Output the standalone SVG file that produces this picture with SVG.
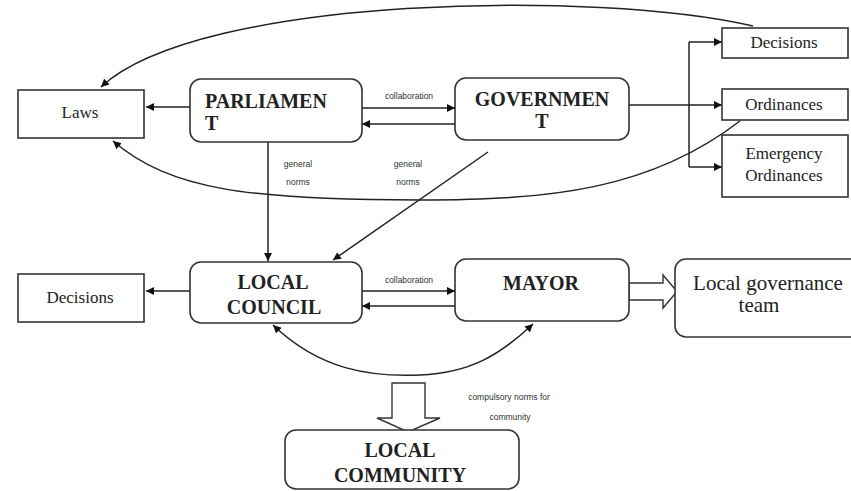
<svg xmlns="http://www.w3.org/2000/svg" width="851" height="491" viewBox="0 0 851 491">
<style>
.box{fill:#fff;stroke:#333;stroke-width:1.6}
.t{font-family:"Liberation Serif","Times New Roman",serif;fill:#222;text-anchor:middle}
.b{font-weight:bold;font-size:20px}
.n{font-family:"Liberation Serif","Times New Roman",serif;font-size:17px}
.s{font-family:"Liberation Sans",Arial,sans-serif;font-size:8.5px;fill:#2a352a;text-anchor:middle}
.c{fill:none;stroke:#222;stroke-width:1.5}
.blk{fill:#fff;stroke:#333;stroke-width:1.4}
</style>
<defs>
<marker id="ah" viewBox="0 0 10 10" refX="10" refY="5" markerWidth="8" markerHeight="8" markerUnits="userSpaceOnUse" orient="auto-start-reverse">
<path d="M0,0 L10,5 L0,10 z" fill="#111"/>
</marker>
</defs>
<rect width="851" height="491" fill="#fff"/>

<g id="connectors">
<path class="c" d="M753,26 C600,-10 200,-5 101,87" marker-end="url(#ah)"/>
<path class="c" d="M740,121 C650,190 550,200 420,200 C250,200 170,190 113,141" marker-end="url(#ah)"/>
<line class="c" x1="190" y1="107" x2="146" y2="107" marker-end="url(#ah)"/>
<line class="c" x1="362" y1="108" x2="455" y2="108" marker-end="url(#ah)"/>
<line class="c" x1="455" y1="124" x2="362" y2="124" marker-end="url(#ah)"/>
<line class="c" x1="629" y1="105" x2="722" y2="105" marker-end="url(#ah)"/>
<path class="c" d="M689,42 L689,167"/>
<line class="c" x1="689" y1="42" x2="722" y2="42" marker-end="url(#ah)"/>
<line class="c" x1="689" y1="167" x2="722" y2="167" marker-end="url(#ah)"/>
<line class="c" x1="268" y1="142" x2="268" y2="261" marker-end="url(#ah)"/>
<line class="c" x1="488" y1="152" x2="333" y2="260" marker-end="url(#ah)"/>
<line class="c" x1="190" y1="291" x2="146" y2="291" marker-end="url(#ah)"/>
<line class="c" x1="362" y1="291" x2="455" y2="291" marker-end="url(#ah)"/>
<line class="c" x1="455" y1="306" x2="362" y2="306" marker-end="url(#ah)"/>
<path class="c" d="M273,325 C320,370 370,377 420,375 C470,373 500,355 533,324" marker-start="url(#ah)" marker-end="url(#ah)"/>
<polygon class="blk" points="629,283 663,283 663,275 677,291.5 663,308 663,300 629,300"/>
<polygon class="blk" points="392,383 425,383 425,418 440,418 408,432 377,418 392,418"/>
<text class="s" x="409" y="99">collaboration</text>
<text class="s" x="409" y="283">collaboration</text>
<text class="s" x="298" y="167">general</text>
<text class="s" x="298" y="185">norms</text>
<text class="s" x="408" y="167">general</text>
<text class="s" x="408" y="185">norms</text>
<text class="s" x="509" y="400">compulsory norms for</text>
<text class="s" x="510" y="420">community</text>
</g>

<g id="laws"><rect class="box" x="18" y="90" width="126" height="48"/><text class="t n" x="80" y="118">Laws</text></g>
<g id="parliament"><rect class="box" x="190" y="79" width="172" height="63" rx="11"/><text class="t b" x="205" y="108" style="text-anchor:start">PARLIAMEN</text><text class="t b" x="205" y="130" style="text-anchor:start">T</text></g>
<g id="government"><rect class="box" x="455" y="78" width="174" height="62" rx="11"/><text class="t b" x="542" y="106">GOVERNMEN</text><text class="t b" x="542" y="128">T</text></g>
<g id="decisions-top"><rect class="box" x="722" y="28" width="126" height="30"/><text class="t n" x="784" y="48">Decisions</text></g>
<g id="ordinances"><rect class="box" x="722" y="89" width="126" height="31"/><text class="t n" x="784" y="110">Ordinances</text></g>
<g id="emergency"><rect class="box" x="722" y="135" width="126" height="62"/><text class="t n" x="784" y="159">Emergency</text><text class="t n" x="784" y="181">Ordinances</text></g>
<g id="local-council"><rect class="box" x="190" y="262" width="172" height="61" rx="11"/><text class="t b" x="273" y="289">LOCAL</text><text class="t b" x="274" y="314">COUNCIL</text></g>
<g id="decisions-left"><rect class="box" x="18" y="274" width="126" height="48"/><text class="t n" x="80" y="303">Decisions</text></g>
<g id="mayor"><rect class="box" x="455" y="259" width="174" height="62" rx="11"/><text class="t b" x="541" y="290">MAYOR</text></g>
<g id="local-governance-team"><rect class="box" x="675" y="259" width="200" height="78" rx="11"/><text class="t" style="font-size:21px" x="768" y="290">Local governance</text><text class="t" style="font-size:21px" x="759" y="312">team</text></g>
<g id="local-community"><rect class="box" x="285" y="430" width="234" height="59" rx="11"/><text class="t b" x="400" y="457">LOCAL</text><text class="t b" x="400" y="482">COMMUNITY</text></g>
</svg>
